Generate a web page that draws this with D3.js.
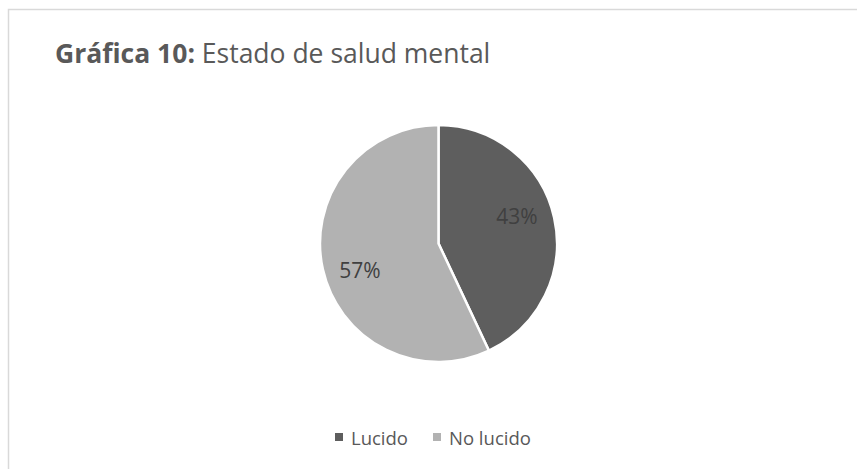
<!DOCTYPE html>
<html>
<head>
<meta charset="utf-8">
<script src="https://cdn.jsdelivr.net/npm/d3@7"></script>
<style>
  body { margin: 0; background: #fff; }
  svg { display: block; font-family: "Open Sans", sans-serif; }
</style>
</head>
<body>
<div id="chart"></div>
<script>
// Datos de la gráfica
const categories = ["Lucido", "No lucido"];
const values = [43, 57];
const colors = ["#5e5e5e", "#b2b2b2"];

const width = 857, height = 469;

const svg = d3.select("#chart").append("svg")
    .attr("width", width)
    .attr("height", height);

// chart frame (runs off the right / bottom of the picture)
svg.append("rect")
    .attr("x", 8.5).attr("y", 9.5)
    .attr("width", 860).attr("height", 480)
    .attr("fill", "none")
    .attr("stroke", "#d9d9d9")
    .attr("stroke-width", 1.5);

// title
const title = svg.append("text")
    .attr("x", 55).attr("y", 63)
    .attr("fill", "#595959")
    .attr("font-size", 26.5);
title.append("tspan").attr("font-weight", "bold").text("Gráfica 10:");
title.append("tspan").text(" Estado de salud mental");

// pie
const cx = 438.5, cy = 243.5, r = 118.5;
const pie = d3.pie().sort(null).value(d => d.value);
const arcs = pie(categories.map((c, i) => ({ name: c, value: values[i] })));
const arc = d3.arc().innerRadius(0).outerRadius(r);

const g = svg.append("g").attr("transform", `translate(${cx},${cy})`);

g.selectAll("path")
    .data(arcs)
    .enter().append("path")
    .attr("d", arc)
    .attr("fill", (d, i) => colors[i])
    .attr("stroke", "#fff")
    .attr("stroke-width", 2.5)
    .attr("stroke-linejoin", "round");

// labels sit a little before the bisector, like Excel does it
const labelPos = d => {
    const a = (d.startAngle + d.endAngle) / 2 - 0.11;
    const lr = r * 0.7;
    return [Math.sin(a) * lr, -Math.cos(a) * lr];
};

g.selectAll("text")
    .data(arcs)
    .enter().append("text")
    .attr("transform", d => `translate(${labelPos(d)})`)
    .attr("text-anchor", "middle")
    .attr("dy", "0.35em")
    .attr("font-size", 21)
    .attr("fill", "#404040")
    .text(d => d.data.value + "%");

// legend
const legend = svg.append("g").attr("transform", "translate(335,438)");
const items = [
    { name: categories[0], x: 0 },
    { name: categories[1], x: 98 }
];
items.forEach((it, i) => {
    legend.append("rect")
        .attr("x", it.x).attr("y", -5)
        .attr("width", 8).attr("height", 8)
        .attr("fill", colors[i]);
    legend.append("text")
        .attr("x", it.x + 16).attr("y", 7)
        .attr("font-size", 18.5)
        .attr("fill", "#595959")
        .text(it.name);
});
</script>
</body>
</html>
